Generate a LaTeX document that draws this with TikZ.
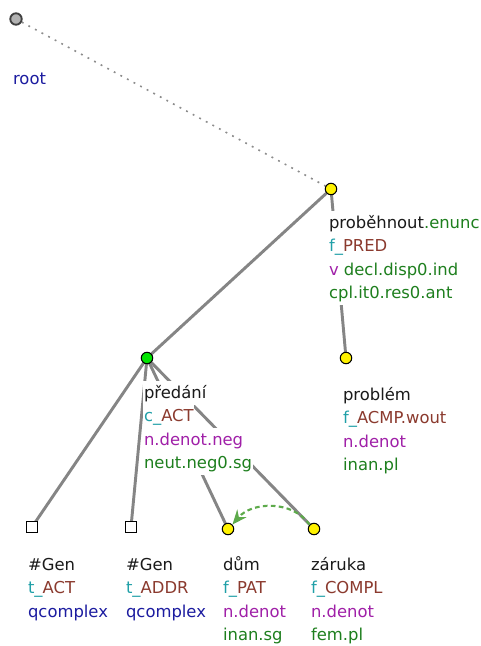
\documentclass[tikz,border=0pt]{standalone}
\usepackage{fontspec}
\setmainfont{DejaVu Sans}
\usetikzlibrary{arrows.meta}
\definecolor{cteal}{HTML}{20A0A8}
\definecolor{cbrown}{HTML}{8B3A2E}
\definecolor{cpurple}{HTML}{A020A8}
\definecolor{cgreen}{HTML}{1E7F1E}
\definecolor{cblue}{HTML}{1C1CA0}
\definecolor{cedge}{HTML}{858585}
\definecolor{carrow}{HTML}{5DAA4B}
\definecolor{cname}{HTML}{1A1A1A}
\pgfdeclarelayer{bg}\pgfsetlayers{bg,main}
\newcommand\ls{\rule[-5.2pt]{0pt}{17.6pt}}
\tikzset{
  tnode/.style={circle, draw=black, line width=0.8pt, fill=yellow, minimum size=8.6pt, inner sep=0pt},
  rootnode/.style={circle, draw=black!75, line width=1.4pt, fill=black!30, minimum size=8.6pt, inner sep=0pt},
  sqnode/.style={rectangle, draw=black, line width=0.9pt, fill=white, minimum size=8pt, inner sep=0pt},
  edge/.style={draw=cedge, line width=2.2pt},
  rootedge/.style={draw=black!45, line width=1.2pt, dash pattern=on 1.4pt off 4.2pt},
  corefarrow/.style={draw=carrow, line width=1.6pt, dash pattern=on 3.5pt off 2.5pt, -{Stealth[length=11pt,width=9pt]}},
  lbl/.style={anchor=base west, inner xsep=0.6pt, inner ysep=0pt, fill=white, text=cname, font=\fontsize{12.3}{14}\selectfont},
}
\begin{document}
\begin{tikzpicture}[x=0.75pt,y=-0.75pt]
\useasboundingbox (0,0) rectangle (480,646);
% tree nodes
\node[rootnode] (root) at (16,19) {};
\node[tnode] (prob) at (331,189) {};
\node[tnode, fill=green!90!black] (pred) at (147,358) {};
\node[tnode] (probl) at (346,358) {};
\node[sqnode] (gen1) at (32,527) {};
\node[sqnode] (gen2) at (131,527) {};
\node[tnode] (dum) at (228,529) {};
\node[tnode] (zar) at (314,529) {};
% edges
\begin{pgfonlayer}{bg}
\draw[rootedge] (root) -- (prob);
\draw[edge] (prob.center) -- (pred.center);
\draw[edge] (prob.center) -- (probl.center);
\draw[edge] (pred.center) -- (gen1.center);
\draw[edge] (pred.center) -- (gen2.center);
\draw[edge] (pred.center) -- (dum.center);
\draw[edge] (pred.center) -- (zar.center);
\end{pgfonlayer}
% labels
\node[lbl] (lroot) at (12,84) {\ls\textcolor{cblue}{root}};

\node[lbl] (lp1) at (328,228) {\ls proběhnout\textcolor{cgreen}{.enunc}};
\node[lbl] (lp2) at (328,251.5) {\ls\textcolor{cteal}{f\_}\textcolor{cbrown}{PRED}};
\node[lbl] (lp3) at (328,275) {\ls\textcolor{cpurple}{v} \textcolor{cgreen}{decl.disp0.ind}};
\node[lbl] (lp4) at (328,298.5) {\ls\textcolor{cgreen}{cpl.it0.res0.ant}};

\node[lbl] (lr1) at (143,398) {\ls předání};
\node[lbl] (lr2) at (143,421.5) {\ls\textcolor{cteal}{c\_}\textcolor{cbrown}{ACT}};
\node[lbl] (lr3) at (143,445) {\ls\textcolor{cpurple}{n.denot.neg}};
\node[lbl] (lr4) at (143,468.5) {\ls\textcolor{cgreen}{neut.neg0.sg}};

\node[lbl] (lq1) at (342,400) {\ls problém};
\node[lbl] (lq2) at (342,423.5) {\ls\textcolor{cteal}{f\_}\textcolor{cbrown}{ACMP.wout}};
\node[lbl] (lq3) at (342,447) {\ls\textcolor{cpurple}{n.denot}};
\node[lbl] (lq4) at (342,470.5) {\ls\textcolor{cgreen}{inan.pl}};

\node[lbl] (lg1) at (27,570) {\ls\#Gen};
\node[lbl] (lg2) at (27,593.5) {\ls\textcolor{cteal}{t\_}\textcolor{cbrown}{ACT}};
\node[lbl] (lg3) at (27,617) {\ls\textcolor{cblue}{qcomplex}};

\node[lbl] (lh1) at (125,570) {\ls\#Gen};
\node[lbl] (lh2) at (125,593.5) {\ls\textcolor{cteal}{t\_}\textcolor{cbrown}{ADDR}};
\node[lbl] (lh3) at (125,617) {\ls\textcolor{cblue}{qcomplex}};

\node[lbl] (ld1) at (222,570) {\ls dům};
\node[lbl] (ld2) at (222,593.5) {\ls\textcolor{cteal}{f\_}\textcolor{cbrown}{PAT}};
\node[lbl] (ld3) at (222,617) {\ls\textcolor{cpurple}{n.denot}};
\node[lbl] (ld4) at (222,640.5) {\ls\textcolor{cgreen}{inan.sg}};

\node[lbl] (lz1) at (310,570) {\ls záruka};
\node[lbl] (lz2) at (310,593.5) {\ls\textcolor{cteal}{f\_}\textcolor{cbrown}{COMPL}};
\node[lbl] (lz3) at (310,617) {\ls\textcolor{cpurple}{n.denot}};
\node[lbl] (lz4) at (310,640.5) {\ls\textcolor{cgreen}{fem.pl}};
% coreference arrow
\draw[corefarrow] (zar.north west) to[out=125,in=50] (dum.north east);
\end{tikzpicture}
\end{document}
